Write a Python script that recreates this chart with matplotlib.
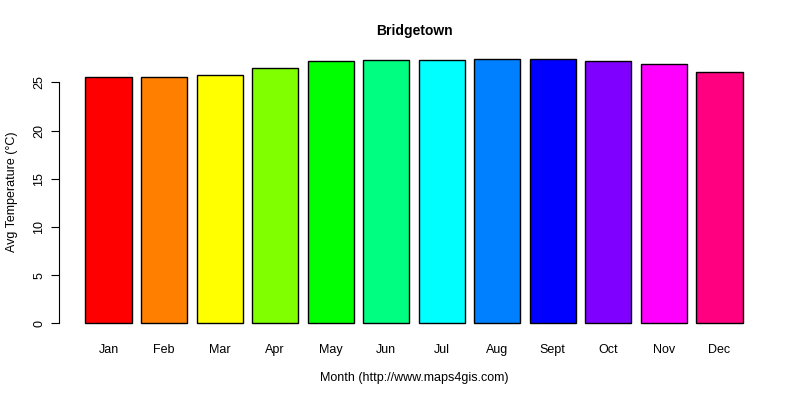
import matplotlib
matplotlib.use("Agg")
import matplotlib.pyplot as plt
import numpy as np

plt.rcParams['font.family'] = ['Liberation Sans', 'DejaVu Sans']

# dati
months = ["Jan", "Feb", "Mar", "Apr", "May", "Jun", "Jul", "Aug", "Sept", "Oct", "Nov", "Dec"]
avg_temp = [25.5, 25.5, 25.8, 26.45, 27.2, 27.3, 27.3, 27.4, 27.4, 27.2, 26.9, 26.1]
bar_colors = ["#FF0000", "#FF8000", "#FFFF00", "#80FF00", "#00FF00", "#00FF80",
              "#00FFFF", "#0080FF", "#0000FF", "#8000FF", "#FF00FF", "#FF0080"]
yticks = [0, 5, 10, 15, 20, 25]

fig = plt.figure(figsize=(8, 4), dpi=100)
ax = fig.add_axes([0.074, 0.165, 0.887, 0.7135])

# posizioni stile barplot di R (width=1, space=0.2)
x = 0.2 + np.arange(len(months)) * 1.2 + 0.5
ax.bar(x, avg_temp, width=1.0, color=bar_colors, edgecolor="black", linewidth=1.0)

lo, hi = 0.2, x[-1] + 0.5
pad = (hi - lo) * 0.04
ax.set_xlim(lo - pad, hi + pad)
ymax = max(avg_temp)
ax.set_ylim(-ymax * 0.04, ymax * 1.04)

for s in ["top", "right", "bottom"]:
    ax.spines[s].set_visible(False)
ax.spines["left"].set_bounds(0, 25)

ax.set_yticks(yticks)
ax.set_yticklabels([str(v) for v in yticks], rotation=90, va="center", fontsize=9)
ax.tick_params(axis="y", length=6, pad=4)
ax.set_xticks(x)
ax.set_xticklabels(months, fontsize=9)
ax.tick_params(axis="x", length=0, pad=7)

ax.set_title("Bridgetown", fontsize=10, fontweight="bold", pad=10)
ax.set_xlabel("Month (http://www.maps4gis.com)", fontsize=9, labelpad=12)
ax.set_ylabel("Avg Temperature (°C)", fontsize=9, labelpad=11)

fig.savefig("out.png", dpi=100)
